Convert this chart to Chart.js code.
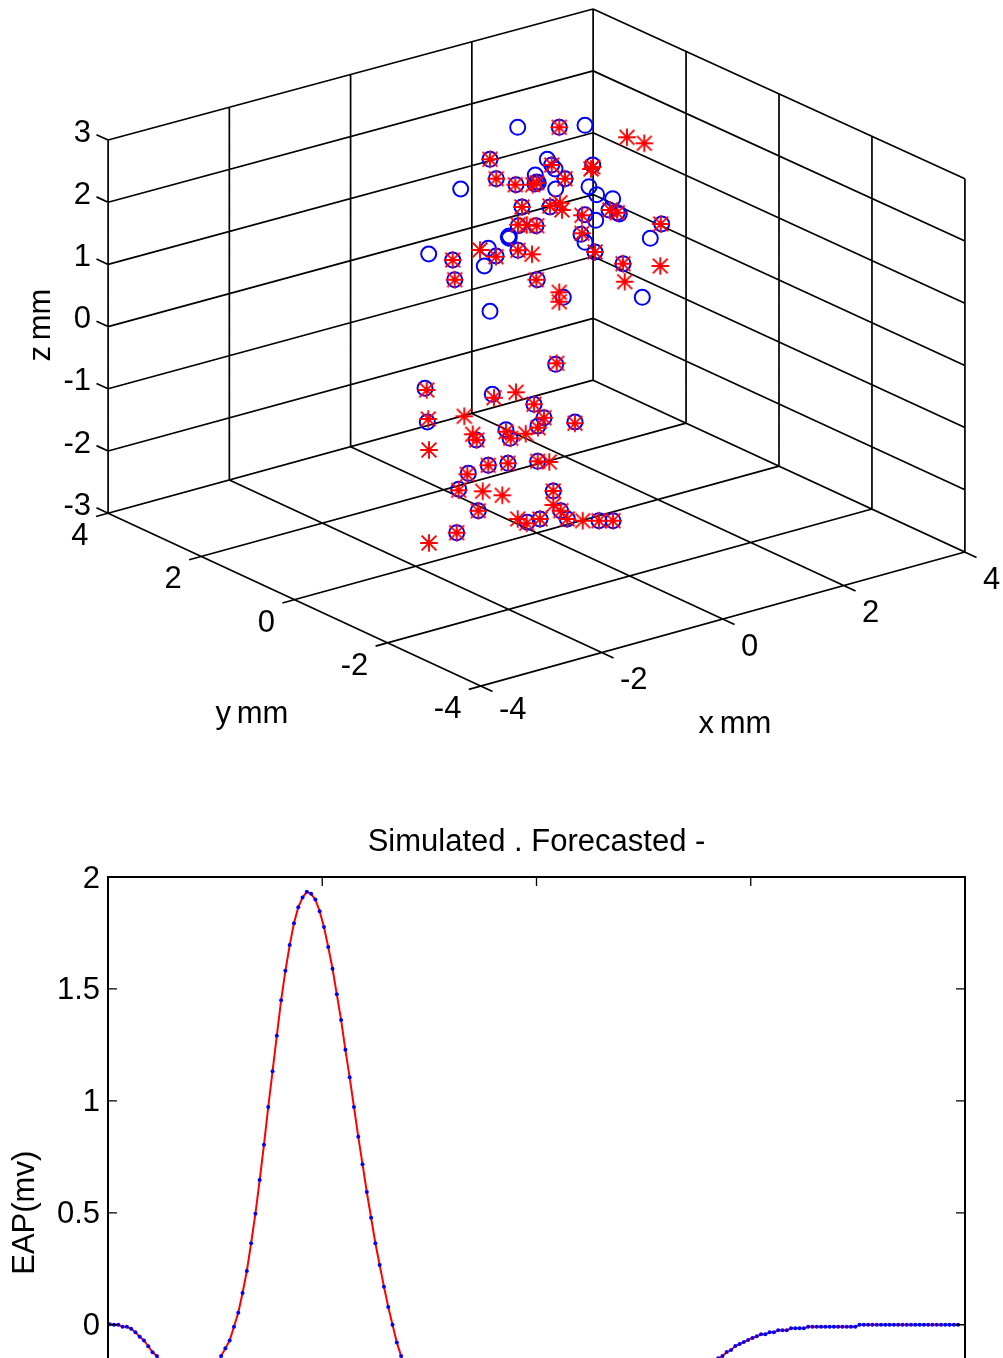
<!DOCTYPE html>
<html>
<head>
<meta charset="utf-8">
<title>EAP</title>
<script src="https://cdn.jsdelivr.net/npm/chart.js@4/dist/chart.umd.min.js"></script>
<style>
  html, body { margin: 0; padding: 0; background: #fff; width: 1003px; height: 1358px; overflow: hidden; }
  canvas { position: absolute; left: 0; }
  #grafico3d { top: 0; }
  #graficoEap { top: 820px; }
</style>
</head>
<body>
<canvas id="grafico3d" width="1003" height="790"></canvas>
<canvas id="graficoEap" width="1003" height="800"></canvas>
<script>
// axis ticks of the 3d box, in mm
var xTicks = [-4, -2, 0, 2, 4];
var yTicks = [-4, -2, 0, 2, 4];
var zTicks = [-3, -2, -1, 0, 1, 2, 3];

// markers, in view plane units (depth is not recoverable)
var circleU = [-1.83, 2.33, 4.9, -4.6, 1.13, 1.57, 1.9, 5.67, -3.97, -2.0, -0.07, -0.1, 0.23, 0.07, 2.9, -7.53, 1.97, 5.3, 6.07, 7.67,
  -1.4, 1.4, 7.3, 8.13, 8.33, 4.9, 5.97, 12.57, -1.77, 0, -2.77, -2.67, -2.7, 11.43, 4.5, 4.9, -4.77, -1.8, -4.0, -5.17,
  -10.73, -8.33, -8.13, 0.13, 5.9, 8.7, 2.73, 10.63, -4.6,
  1.97, -11.1, -4.37, -0.2, 0.8, 0.2, 3.9, -10.87, -3.0, -2.6, -5.97, -2.8, -4.77, 0.17, -6.77, -7.73, -5.77, 1.73, 2.47, 3.13,
  0.4, -0.87, 6.3, 7.7, -7.93];
var circleV = [21.87, 21.87, 22.07, 18.67, 18.67, 18.1, 17.7, 18.1, 16.73, 16.13, 17.1, 16.2, 16.33, 16.4, 16.73, 15.7, 15.7, 15.93, 15.13, 14.73,
  13.9, 13.9, 13.6, 13.33, 13.2, 13.13, 12.57, 12.2, 12.03, 12.03, 10.93, 11.0, 10.77, 10.77, 11.17, 10.37, 9.77, 9.57, 9.0, 8.0,
  9.2, 8.6, 6.63, 6.63, 9.4, 8.23, 4.87, 4.87, 3.47,
  -1.83, -4.23, -4.83, -5.83, -7.17, -8.0, -7.6, -7.6, -8.37, -9.23, -9.4, -11.73, -11.93, -11.53, -12.73, -14.33, -16.47, -14.5, -16.47, -17.3,
  -17.3, -17.63, -17.47, -17.47, -18.67];
var starU = [2.33, 9.1, 10.83, -4.6, 1.57, 5.67, 5.5, -3.97, -2.07, -0.33, 0.07, 2.9, -1.4, 1.4, 2.4, 2.6, 7.4, 8.13, 4.6, 4.6,
  -1.8, -0.93, 0.07, 12.47, -5.6, -4.0, -1.8, -0.4, -8.33, -8.13, 0.03, 5.9, 8.7, 8.87, 12.43, 2.33, 2.33,
  2.07, -10.93, -4.2, -2.0, -0.2, 0.8, 0.2, 3.9, -10.77, -7.17, -10.7, -6.33, -5.93, -3.0, -2.53, -1.03, -4.77, -2.8, 0.17, 1.33,
  -6.87, -7.73, -5.33, -3.37, -5.77, 1.73, 1.73, 2.47, 3.13, 0.4, -1.83, -0.93, 4.67, 6.3, 7.7, -7.93, -10.7];
var starV = [21.87, 20.87, 20.27, 18.67, 18.1, 17.9, 17.7, 16.73, 16.13, 16.13, 16.33, 16.73, 13.9, 14.0, 14.33, 13.6, 13.6, 13.33, 13.07, 11.27,
  12.13, 12.1, 12.03, 12.2, 9.6, 8.93, 9.57, 9.17, 8.6, 6.63, 6.63, 9.4, 8.23, 6.43, 8.0, 5.37, 4.43,
  -1.73, -4.4, -5.17, -4.63, -5.83, -7.17, -8.17, -7.73, -7.3, -7.03, -10.4, -8.83, -9.4, -8.57, -9.23, -8.77, -11.93, -11.73, -11.53, -11.6,
  -12.83, -14.43, -14.53, -14.93, -16.47, -14.5, -15.9, -16.47, -17.3, -17.3, -17.3, -17.73, -17.47, -17.47, -17.47, -18.67, -19.7];

// second plot
var eapTicksX = [0, 50, 100, 150, 200];
var eapTicksY = [-1, -0.5, 0, 0.5, 1, 1.5, 2];
var eapValues = [
  0.002, 0, 0, -0.009, -0.009, -0.018, -0.034, -0.054, -0.070, -0.096,
  -0.123, -0.140, -0.175, -0.21, -0.245, -0.275, -0.305, -0.33, -0.345, -0.355,
  -0.355, -0.345, -0.325, -0.295, -0.25, -0.195, -0.140, -0.105, -0.070, -0.009,
  0.054, 0.142, 0.240, 0.364, 0.496, 0.646, 0.804, 0.973, 1.132, 1.291,
  1.449, 1.581, 1.696, 1.793, 1.865, 1.908, 1.934, 1.925, 1.899, 1.847,
  1.777, 1.687, 1.590, 1.476, 1.361, 1.228, 1.105, 0.973, 0.840, 0.717,
  0.593, 0.478, 0.364, 0.267, 0.170, 0.079, 0, -0.079, -0.140,
  -0.20, -0.26, -0.31, -0.36, -0.41, -0.45, -0.49, -0.52, -0.55, -0.58,
  -0.60, -0.62, -0.64, -0.65, -0.66, -0.67, -0.68, -0.68, -0.68, -0.68,
  -0.67, -0.67, -0.66, -0.65, -0.64, -0.63, -0.62, -0.61, -0.60, -0.59,
  -0.58, -0.57, -0.56, -0.55, -0.54, -0.53, -0.52, -0.51, -0.50, -0.49,
  -0.48, -0.47, -0.46, -0.45, -0.44, -0.43, -0.42, -0.41, -0.40, -0.39,
  -0.38, -0.37, -0.36, -0.35, -0.34, -0.33, -0.32, -0.31, -0.30, -0.29,
  -0.28, -0.27, -0.26, -0.25, -0.24, -0.23, -0.22, -0.21, -0.20, -0.19,
  -0.18, -0.17, -0.16, -0.15,
  -0.140, -0.122, -0.113, -0.095, -0.086, -0.077, -0.068, -0.059, -0.052, -0.043,
  -0.043, -0.034, -0.034, -0.025, -0.025, -0.025, -0.016, -0.016, -0.016, -0.016,
  -0.009, -0.009, -0.009, -0.009, -0.009, -0.009, -0.009, -0.009, -0.009, -0.009, -0.009, -0.009,
  0, 0, 0, 0, 0, 0, 0, 0, 0, 0, 0, 0,
  0, 0, 0, 0, 0, 0, 0, 0, 0, 0, 0, 0
];

var fonte = '"Liberation Sans", Arial, sans-serif';
var tamanho = 31;

// projection of the box on the view plane, the far corner sits a bit lower and shorter
function proj(x, y, z) {
  var d = Math.max(0, x + y) / 8;
  return {
    x: 6.05 * x - 4.66 * y + 0.05 + 0.1 * d,
    y: 1.675 * x + 2.16 * y + 6.22 * z * (1 - 0.0054 * d) - 0.2 * d
  };
}

function pares(u, v) {
  return u.map(function (val, i) { return { x: val, y: v[i] }; });
}

// the star of chart.js has short diagonals, this one is closer to the original marker
function marcaEstrela() {
  var cv = document.createElement('canvas');
  cv.width = 20;
  cv.height = 20;
  var c = cv.getContext('2d');
  c.strokeStyle = '#ff0000';
  c.lineWidth = 1.9;
  c.beginPath();
  c.moveTo(10, 1.2); c.lineTo(10, 18.8);
  c.moveTo(1.2, 10); c.lineTo(18.8, 10);
  c.moveTo(2.6, 2.6); c.lineTo(17.4, 17.4);
  c.moveTo(17.4, 2.6); c.lineTo(2.6, 17.4);
  c.stroke();
  return cv;
}

// box lines, broken with NaN
var linhas = [];
function segmento(a, b) {
  linhas.push(a, b, { x: NaN, y: NaN });
}
zTicks.forEach(function (z) {
  segmento(proj(-4, 4.25, z), proj(-4, 4, z));
  segmento(proj(-4, 4, z), proj(4, 4, z));
  segmento(proj(4, 4, z), proj(4, -4, z));
});
xTicks.forEach(function (x) {
  segmento(proj(x, 4, -3), proj(x, 4, 3));
  segmento(proj(x, 4, -3), proj(x, -4.25, -3));
});
yTicks.forEach(function (y) {
  segmento(proj(4, y, -3), proj(4, y, 3));
  segmento(proj(4, y, -3), proj(-4.2, y, -3));
});

var textos3d = {
  id: 'textos3d',
  afterDraw: function (chart) {
    var c = chart.ctx;
    var su = chart.scales.x, sv = chart.scales.y;
    function ponto(p) {
      return { x: su.getPixelForValue(p.x), y: sv.getPixelForValue(p.y) };
    }
    c.save();
    c.fillStyle = '#000';
    c.font = tamanho + 'px ' + fonte;
    c.textBaseline = 'middle';
    c.textAlign = 'right';
    zTicks.forEach(function (z) {
      var p = ponto(proj(-4, 4, z));
      c.fillText(String(z), p.x - 17, p.y - 7);
    });
    yTicks.forEach(function (y) {
      var p = ponto(proj(-4, y, -3));
      c.fillText(String(y), p.x - 19.5, p.y + 23.5);
    });
    c.textAlign = 'left';
    xTicks.forEach(function (x) {
      var p = ponto(proj(x, -4, -3));
      c.fillText(String(x), p.x + 18, p.y + (x === -4 ? 24 : 28));
    });
    c.textAlign = 'center';
    c.wordSpacing = '-3px';
    c.fillText('y mm', 252, 714);
    c.fillText('x mm', 735, 724);
    c.translate(41, 325);
    c.rotate(-Math.PI / 2);
    c.fillText('z mm', 0, 0);
    c.restore();
  }
};

new Chart(document.getElementById('grafico3d').getContext('2d'), {
  type: 'scatter',
  data: {
    datasets: [
      { data: linhas, showLine: true, spanGaps: false, borderColor: '#000', borderWidth: 1.7, pointRadius: 0, order: 3 },
      { data: pares(circleU, circleV), pointStyle: 'circle', pointRadius: 7.5, pointBorderWidth: 2, pointBorderColor: '#0000ff', pointBackgroundColor: 'rgba(0,0,0,0)', order: 2 },
      { data: pares(starU, starV), pointStyle: marcaEstrela(), order: 1 }
    ]
  },
  options: {
    responsive: false,
    animation: false,
    layout: { padding: 0, autoPadding: false },
    scales: {
      x: { display: false, min: -53.6, max: 46.7 },
      y: { display: false, min: -44.4, max: 34.6 }
    },
    plugins: { legend: { display: false }, tooltip: { enabled: false } }
  },
  plugins: [textos3d]
});

// box and inward ticks, chart.js only draws them outward
var moldura = {
  id: 'moldura',
  afterDraw: function (chart) {
    var c = chart.ctx, a = chart.chartArea;
    c.save();
    c.strokeStyle = '#000';
    c.lineWidth = 1.3;
    c.beginPath();
    eapTicksX.forEach(function (v) {
      var px = chart.scales.x.getPixelForValue(v);
      c.moveTo(px, a.top); c.lineTo(px, a.top + 9);
      c.moveTo(px, a.bottom); c.lineTo(px, a.bottom - 9);
    });
    eapTicksY.forEach(function (v) {
      var py = chart.scales.y.getPixelForValue(v);
      c.moveTo(a.left, py); c.lineTo(a.left + 9, py);
      c.moveTo(a.right, py); c.lineTo(a.right - 9, py);
    });
    c.stroke();
    c.lineWidth = 2;
    c.strokeRect(a.left, a.top, a.right - a.left, a.bottom - a.top);
    c.restore();
  }
};

new Chart(document.getElementById('graficoEap').getContext('2d'), {
  type: 'scatter',
  data: {
    datasets: [{
      data: eapValues.map(function (v, i) { return { x: i + 0.4, y: v }; }),
      showLine: true,
      tension: 0,
      borderColor: '#ff0000',
      borderWidth: 2,
      pointRadius: 2,
      pointBorderWidth: 0,
      pointBackgroundColor: '#0000ff'
    }]
  },
  options: {
    responsive: false,
    animation: false,
    layout: { padding: { right: 38 }, autoPadding: false },
    scales: {
      x: {
        min: 0,
        max: 200,
        afterBuildTicks: function (s) { s.ticks = eapTicksX.map(function (v) { return { value: v }; }); },
        afterFit: function (s) { s.height = 71.4; },
        grid: { display: false, drawTicks: false },
        ticks: { color: '#000', font: { family: fonte, size: tamanho }, padding: 8, callback: function (v) { return String(v); } }
      },
      y: {
        min: -1,
        max: 2,
        afterBuildTicks: function (s) { s.ticks = eapTicksY.map(function (v) { return { value: v }; }); },
        afterFit: function (s) { s.width = 108; },
        grid: { display: false, drawTicks: false },
        ticks: { color: '#000', font: { family: fonte, size: tamanho }, padding: 8, labelOffset: 2, callback: function (v) { return String(v); } },
        title: { display: true, text: 'EAP(mv)', color: '#000', font: { family: fonte, size: tamanho }, padding: { top: 7, bottom: 0 } }
      }
    },
    plugins: {
      legend: { display: false },
      tooltip: { enabled: false },
      title: {
        display: true,
        fullSize: false,
        text: 'Simulated . Forecasted -',
        color: '#000',
        font: { family: fonte, size: tamanho, weight: 'normal' },
        padding: { top: 3.4, bottom: 16.4 }
      }
    }
  },
  plugins: [moldura]
});
</script>
</body>
</html>
